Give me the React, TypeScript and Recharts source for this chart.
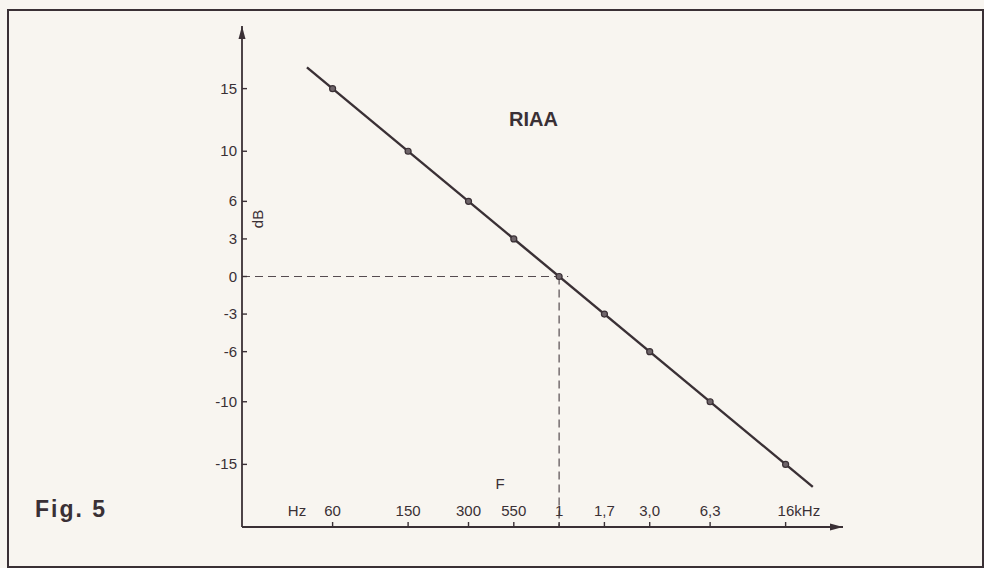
import { ScatterChart, Scatter, XAxis, YAxis, ReferenceLine, ReferenceDot } from "recharts";
import { ReactElement } from "react";

// frequencies marked on the F axis, and the gain (dB) the RIAA line has there
const freqLabels = ["60", "150", "300", "550", "1", "1,7", "3,0", "6,3", "16kHz"];
const gainDb = [15, 10, 6, 3, 0, -3, -6, -10, -15];
const yTicks = [15, 10, 6, 3, 0, -3, -6, -10, -15];
// where the drawn line starts and stops (dB)
const lineStart = 16.7;
const lineEnd = -16.8;

const ink = "#3a3035";
const font = "'Liberation Sans', Arial, sans-serif";

const points = gainDb.map((g) => ({ x: g, y: g }));

const XTick = (props: any) => {
  const { x, payload } = props;
  const y = 527;
  const idx = gainDb.indexOf(payload.value);
  const label = freqLabels[idx] ?? "";
  const last = idx === freqLabels.length - 1;
  return (
    <g>
      <line x1={x} y1={y} x2={x} y2={y - 5} stroke={ink} strokeWidth={1.4} />
      <text
        x={last ? x - 8 : x}
        y={y - 11}
        textAnchor={last ? "start" : "middle"}
        fontFamily={font}
        fontSize={15}
        fill={ink}
      >
        {label}
      </text>
    </g>
  );
};

const YTick = (props: any) => {
  const { y, payload } = props;
  const x = 242;
  return (
    <g>
      <line x1={x} y1={y} x2={x + 5} y2={y} stroke={ink} strokeWidth={1.4} />
      <text x={x - 5} y={y + 5} textAnchor="end" fontFamily={font} fontSize={15} fill={ink}>
        {payload.value}
      </text>
    </g>
  );
};

const Dot = (props: any) => (
  <circle cx={props.cx} cy={props.cy} r={3} fill="#6e6469" stroke={ink} strokeWidth={1.2} />
);

const ArrowUp = (props: any) => (
  <path d={`M${props.cx},${props.cy} L${props.cx - 3.5},${props.cy + 13} L${props.cx + 3.5},${props.cy + 13} Z`} fill={ink} />
);

const ArrowRight = (props: any) => (
  <path d={`M${props.cx},${props.cy} L${props.cx - 13},${props.cy - 3.5} L${props.cx - 13},${props.cy + 3.5} Z`} fill={ink} />
);

export default function App(): ReactElement {
  return (
    <div
      style={{
        position: "absolute",
        left: 0,
        top: 0,
        width: 984,
        height: 568,
        background: "#f8f5f0",
        overflow: "hidden",
      }}
    >
      <div
        style={{
          position: "absolute",
          left: 7,
          top: 9,
          width: 973,
          height: 555,
          border: `2px solid ${ink}`,
        }}
      />
      <ScatterChart
        width={984}
        height={568}
        margin={{ top: 26, right: 141, left: 182, bottom: 11 }}
        style={{ position: "absolute", left: 0, top: 0 }}
      >
        <XAxis
          type="number"
          dataKey="x"
          domain={[-18.8, 21]}
          reversed
          allowDataOverflow
          ticks={gainDb}
          interval={0}
          height={30}
          tickSize={0}
          tickMargin={0}
          tickLine={false}
          tick={<XTick />}
          axisLine={{ stroke: ink, strokeWidth: 1.8 }}
        />
        <YAxis
          type="number"
          dataKey="y"
          domain={[-20, 20]}
          allowDataOverflow
          ticks={yTicks}
          interval={0}
          width={60}
          tickSize={0}
          tickMargin={0}
          tickLine={false}
          tick={<YTick />}
          axisLine={{ stroke: ink, strokeWidth: 1.8 }}
        />
        <ReferenceLine
          segment={[{ x: 21, y: 0 }, { x: -0.6, y: 0 }]}
          stroke="#554b50"
          strokeWidth={1.2}
          strokeDasharray="8 5"
        />
        <ReferenceLine
          segment={[{ x: 0, y: 0 }, { x: 0, y: -20 }]}
          stroke="#554b50"
          strokeWidth={1.2}
          strokeDasharray="8 5"
        />
        <ReferenceLine
          segment={[{ x: lineStart, y: lineStart }, { x: lineEnd, y: lineEnd }]}
          stroke={ink}
          strokeWidth={2.4}
        />
        <Scatter data={points} dataKey="y" shape={<Dot />} isAnimationActive={false} />
        <ReferenceDot x={21} y={20} ifOverflow="visible" shape={<ArrowUp />} />
        <ReferenceDot x={-18.8} y={-20} ifOverflow="visible" shape={<ArrowRight />} />
      </ScatterChart>
      <svg
        width={984}
        height={568}
        style={{ position: "absolute", left: 0, top: 0, pointerEvents: "none" }}
      >
        <text x={509} y={126} fontFamily={font} fontSize={20} fontWeight="bold" fill={ink}>
          RIAA
        </text>
        <text
          x={263}
          y={219}
          fontFamily={font}
          fontSize={15}
          fill={ink}
          textAnchor="middle"
          transform="rotate(-90 263 219)"
        >
          dB
        </text>
        <text x={500} y={489} fontFamily={font} fontSize={15} fill={ink} textAnchor="middle">
          F
        </text>
        <text x={297} y={516} fontFamily={font} fontSize={15} fill={ink} textAnchor="middle">
          Hz
        </text>
        <text x={35} y={517} fontFamily={font} fontSize={23} fontWeight="bold" fill={ink} letterSpacing={2}>
          Fig. 5
        </text>
      </svg>
    </div>
  );
}
